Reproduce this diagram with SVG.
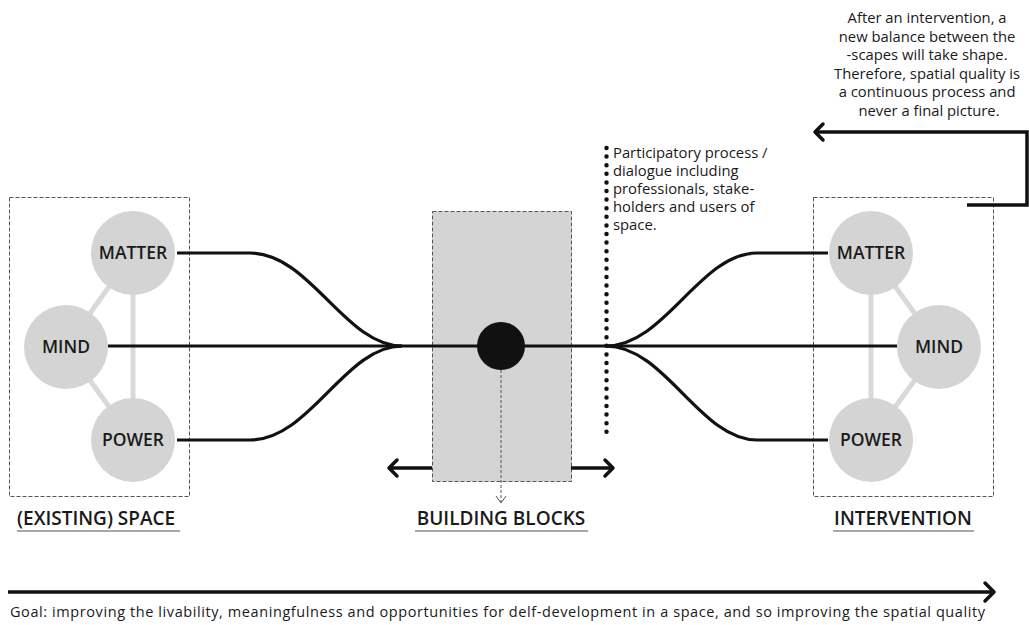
<svg xmlns="http://www.w3.org/2000/svg" width="1029" height="625" viewBox="0 0 1029 625">
<style>
  text { font-family: "Open Sans", "Liberation Sans", sans-serif; fill: #1a1a1a; }
  .node { fill: #d4d4d4; }
  .nlabel { font-size: 17.5px; font-weight: 600; text-anchor: middle; }
  .tie { stroke: #d9d9d9; stroke-width: 5; fill: none; }
  .dbox { fill: none; stroke: #555; stroke-width: 1; stroke-dasharray: 4 2; }
  .wire { stroke: #111; stroke-width: 3.2; fill: none; }
  .arrow { stroke: #111; stroke-width: 3.5; fill: none; }
  .head { stroke: #111; stroke-width: 3.5; fill: none; stroke-linecap: round; stroke-linejoin: round; }
  .title { font-size: 19px; font-weight: 600; }
  .uline { stroke: #8a8a8a; stroke-width: 1.6; }
  .note { font-size: 14.8px; }
</style>

<!-- Existing space -->
<g id="existing-space">
  <rect class="dbox" x="9.5" y="197.5" width="180" height="299"/>
  <line class="tie" x1="133" y1="253" x2="66" y2="347"/>
  <line class="tie" x1="66" y1="347" x2="133" y2="440"/>
  <line class="tie" x1="133" y1="253" x2="133" y2="440"/>
  <g id="left-matter"><circle class="node" cx="133" cy="253" r="42"/><text class="nlabel" x="133" y="259">MATTER</text></g>
  <g id="left-mind"><circle class="node" cx="66" cy="347" r="42"/><text class="nlabel" x="66" y="353">MIND</text></g>
  <g id="left-power"><circle class="node" cx="133" cy="440" r="42"/><text class="nlabel" x="133" y="446">POWER</text></g>
  <text class="title" x="17" y="525">(EXISTING) SPACE</text>
  <line class="uline" x1="17" y1="531" x2="180" y2="531"/>
</g>

<!-- Building blocks -->
<g id="building-blocks">
  <rect x="432.5" y="211.5" width="139" height="270" fill="#d4d4d4" stroke="#555" stroke-width="1" stroke-dasharray="4 2"/>
  <text class="title" x="501" y="525" text-anchor="middle">BUILDING BLOCKS</text>
  <line class="uline" x1="415" y1="531" x2="588" y2="531"/>
</g>

<!-- Intervention -->
<g id="intervention">
  <rect class="dbox" x="813.5" y="197.5" width="180" height="299"/>
  <line class="tie" x1="871" y1="253" x2="939" y2="347"/>
  <line class="tie" x1="939" y1="347" x2="871" y2="440"/>
  <line class="tie" x1="871" y1="253" x2="871" y2="440"/>
  <g id="right-matter"><circle class="node" cx="871" cy="253" r="42"/><text class="nlabel" x="871" y="259">MATTER</text></g>
  <g id="right-mind"><circle class="node" cx="939" cy="347" r="42"/><text class="nlabel" x="939" y="353">MIND</text></g>
  <g id="right-power"><circle class="node" cx="871" cy="440" r="42"/><text class="nlabel" x="871" y="446">POWER</text></g>
  <text class="title" x="903" y="525" text-anchor="middle">INTERVENTION</text>
  <line class="uline" x1="833" y1="531" x2="974" y2="531"/>
</g>

<!-- Participatory process -->
<g id="participatory">
  <line x1="606.5" y1="148" x2="606.5" y2="438" stroke="#111" stroke-width="4.5" stroke-linecap="round" stroke-dasharray="0 8.6"/>
  <text class="note" x="613">
    <tspan x="613" y="158">Participatory process /</tspan>
    <tspan x="613" y="176">dialogue including</tspan>
    <tspan x="613" y="194">professionals, stake-</tspan>
    <tspan x="613" y="212">holders and users of</tspan>
    <tspan x="613" y="230">space.</tspan>
  </text>
</g>

<!-- Feedback note -->
<g id="feedback-note">
  <text class="note" text-anchor="middle">
    <tspan x="929" y="23">After an intervention, a</tspan>
    <tspan x="929" y="41.5">new balance between the</tspan>
    <tspan x="929" y="60">-scapes will take shape.</tspan>
    <tspan x="929" y="78.5">Therefore, spatial quality is</tspan>
    <tspan x="929" y="97">a continuous process and</tspan>
    <tspan x="929" y="115.5">never a final picture.</tspan>
  </text>
</g>

<!-- Connectors -->
<g id="connectors">
  <path class="wire" d="M177,253 H250 C310,253 345,346 402,346"/>
  <path class="wire" d="M108,346 H897"/>
  <path class="wire" d="M177,440 H250 C310,440 345,346 402,346"/>
  <path class="wire" d="M606,346 C665,346 700,253 757,253 H828"/>
  <path class="wire" d="M606,346 C665,346 700,440 757,440 H828"/>
  <circle cx="501" cy="346" r="24" fill="#111"/>
  <line x1="501" y1="370" x2="501" y2="502" stroke="#555" stroke-width="1" stroke-dasharray="3 2"/>
  <path d="M496,496 L501,503 L506,496" fill="none" stroke="#555" stroke-width="1"/>
  <!-- left/right expansion arrows -->
  <path class="arrow" d="M432,468 H389"/>
  <path class="head" d="M397,460 L389,468 L397,476"/>
  <path class="arrow" d="M571,468 H613"/>
  <path class="head" d="M605,460 L613,468 L605,476"/>
  <!-- feedback loop arrow -->
  <path class="arrow" d="M967,205 H1027 V132 H815" stroke-linejoin="miter"/>
  <path class="head" d="M823,124 L815,132 L823,140"/>
  <!-- goal arrow -->
  <path class="arrow" d="M8,592 H994" stroke-width="4"/>
  <path class="head" d="M985,583 L994,592 L985,601" stroke-width="4"/>
</g>

<g id="goal">
  <text x="10" y="617" font-size="14.5" textLength="975" lengthAdjust="spacing">Goal: improving the livability, meaningfulness and opportunities for delf-development in a space, and so improving the spatial quality</text>
</g>
</svg>
